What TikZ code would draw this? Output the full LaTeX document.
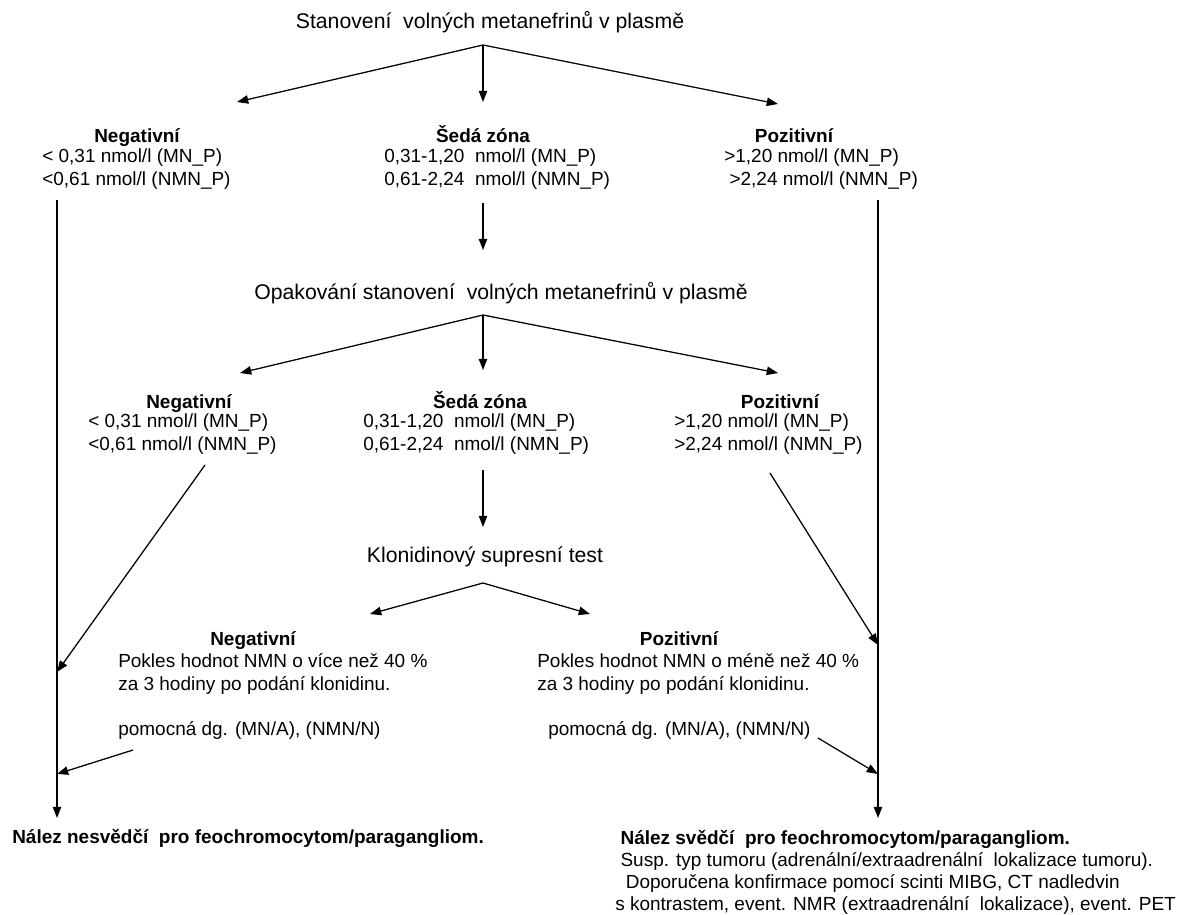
\documentclass[tikz,border=0pt]{standalone}
\usepackage{fontspec}
\setmainfont{Liberation Sans}
\usetikzlibrary{arrows.meta}

\tikzset{
	arr/.style={-{Triangle[length=8pt,width=6pt]},line width=0.9pt},
	txt/.style={font=\fontsize{13.5pt}{16.2pt}\selectfont,inner sep=0pt,align=left},
	head/.style={txt,font=\fontsize{13.5pt}{16.2pt}\selectfont\bfseries,anchor=base},
	tit/.style={txt,font=\fontsize{15.1pt}{18pt}\selectfont}
}

\begin{document}
\begin{tikzpicture}[x=0.025cm,y=-0.025cm]
					\useasboundingbox (0,0) rectangle (1186,915);
					
					\path (490,22) node[tit] (stan) {Stanovení\ \ volných metanefrinů v plasmě};
					\path (137,142) node[head] (neg1h) {Negativní};
					\path (42,169) node[txt,anchor=west] (neg1) {< 0,31 nmol/l (MN\_P)\\<0,61 nmol/l (NMN\_P)};
					\path (483,142) node[head] (sed1h) {Šedá zóna};
					\path (384,169) node[txt,anchor=west] (sed1) {0,31-1,20\ \ nmol/l (MN\_P)\\0,61-2,24\ \ nmol/l (NMN\_P)};
					\path (794,142) node[head] (poz1h) {Pozitivní};
					\path (724,169) node[txt,anchor=west] (poz1) {>1,20 nmol/l (MN\_P)\\\ >2,24 nmol/l (NMN\_P)};
					
					\path (501,293) node[tit] (opak) {Opakování stanovení\ \ volných metanefrinů v plasmě};
					\path (189,408) node[head] (neg2h) {Negativní};
					\path (88,434) node[txt,anchor=west] (neg2) {< 0,31 nmol/l (MN\_P)\\<0,61 nmol/l (NMN\_P)};
					\path (480,408) node[head] (sed2h) {Šedá zóna};
					\path (363,434) node[txt,anchor=west] (sed2) {0,31-1,20\ \ nmol/l (MN\_P)\\0,61-2,24\ \ nmol/l (NMN\_P)};
					\path (780,408) node[head] (poz2h) {Pozitivní};
					\path (674,434) node[txt,anchor=west] (poz2) {>1,20 nmol/l (MN\_P)\\>2,24 nmol/l (NMN\_P)};
					
					\path (485,557) node[tit] (klon) {Klonidinový supresní test};
					\path (253,645) node[head] (neg3h) {Negativní};
					\path (118,674) node[txt,anchor=west] (neg3) {Pokles hodnot NMN o více než 40 \%\\za 3 hodiny po podání klonidinu.};
					\path (118,730) node[txt,anchor=west] (dgneg) {pomocná dg. (MN/A), (NMN/N)};
					\path (679,645) node[head] (poz3h) {Pozitivní};
					\path (537,674) node[txt,anchor=west] (poz3) {Pokles hodnot NMN o méně než 40 \%\\za 3 hodiny po podání klonidinu.};
					\path (548,730) node[txt,anchor=west] (dgpos) {pomocná dg. (MN/A), (NMN/N)};
					
					\path (12,838) node[head,anchor=west] (nesv) {Nález nesvědčí\ \ pro feochromocytom/paragangliom.};
					\path (615,872) node[txt,anchor=west,font=\fontsize{13.5pt}{15.7pt}\selectfont] (svedci) {\textbf{\ Nález svědčí\ \ pro feochromocytom/paragangliom.}\\\ Susp. typ tumoru (adrenální/extraadrenální\ \ lokalizace tumoru).\\\ \ Doporučena konfirmace pomocí scinti MIBG, CT nadledvin\\s kontrastem, event. NMR (extraadrenální\ \ lokalizace), event. PET};
					
					\coordinate (b1) at (483,45);
					\coordinate (b1l) at (237,102);
					\coordinate (b1m) at (483,102);
					\coordinate (b1r) at (778,104);
					\coordinate (s1a) at (483,203);
					\coordinate (s1b) at (483,250);
					\coordinate (b2) at (483,315);
					\coordinate (b2l) at (240,373);
					\coordinate (b2m) at (483,370);
					\coordinate (b2r) at (778,373);
					\coordinate (s2a) at (483,470);
					\coordinate (s2b) at (483,527);
					\coordinate (b3) at (483,583);
					\coordinate (b3l) at (370,614);
					\coordinate (b3r) at (590,614);
					\coordinate (lt) at (57,200);
					\coordinate (lneg) at (57,672);
					\coordinate (ldg) at (57,774);
					\coordinate (lb) at (57,818);
					\coordinate (rt) at (878,200);
					\coordinate (rpoz) at (878,645);
					\coordinate (rdg) at (878,774);
					\coordinate (rb) at (878,818);
					\coordinate (n2) at (205,465);
					\coordinate (p2) at (770,473);
					\coordinate (dgn) at (133,750);
					\coordinate (dgp) at (818,738);
					
					\draw[arr] (b1) -- (b1l);
					\draw[arr] (b1) -- (b1m);
					\draw[arr] (b1) -- (b1r);
					\draw[arr] (s1a) -- (s1b);
					\draw[arr] (b2) -- (b2l);
					\draw[arr] (b2) -- (b2m);
					\draw[arr] (b2) -- (b2r);
					\draw[arr] (s2a) -- (s2b);
					\draw[arr] (b3) -- (b3l);
					\draw[arr] (b3) -- (b3r);
					\draw[arr] (lt) -- (lb);
					\draw[arr] (rt) -- (rb);
					\draw[arr] (n2) -- (lneg);
					\draw[arr] (p2) -- (rpoz);
					\draw[arr] (dgn) -- (ldg);
					\draw[arr] (dgp) -- (rdg);
\end{tikzpicture}
\end{document}
